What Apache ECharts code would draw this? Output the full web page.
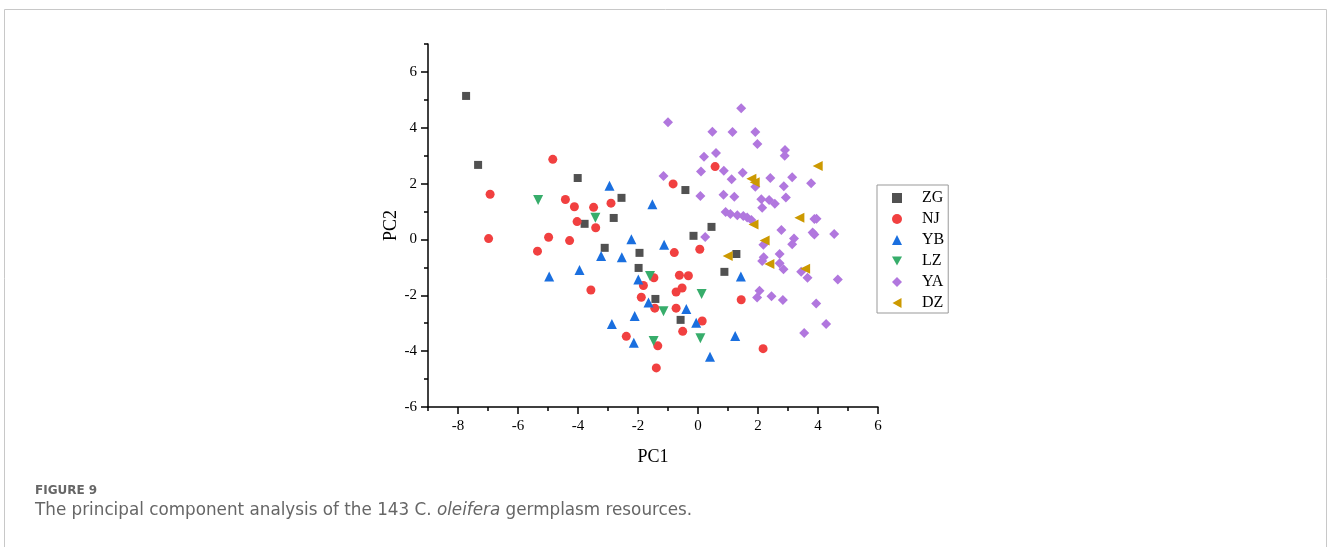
<!DOCTYPE html>
<html>
<head>
<meta charset="utf-8">
<script src="https://cdn.jsdelivr.net/npm/echarts@6/dist/echarts.min.js"></script>
<style>
  html, body { margin: 0; padding: 0; background: #fff; }
  #chart { width: 1328px; height: 547px; }
</style>
</head>
<body>
<div id="chart"></div>
<script>
// PCA scores, [PC1, PC2]
const zg = [
  [-7.73, 5.14], [-7.33, 2.67], [-4.01, 2.20], [-3.78, 0.56], [-2.55, 1.49], [-2.81, 0.77],
  [-3.11, -0.30], [-1.95, -0.48], [-1.98, -1.02], [-1.42, -2.13], [-0.58, -2.88], [-0.42, 1.77],
  [-0.15, 0.13], [0.45, 0.45], [1.28, -0.52], [0.88, -1.16]
]
const nj = [
  [-4.84, 2.87], [-6.93, 1.62], [-4.42, 1.43], [-4.12, 1.17], [-3.48, 1.15], [-2.90, 1.30],
  [-4.03, 0.64], [-3.41, 0.42], [-6.98, 0.03], [-4.98, 0.08], [-4.28, -0.04], [-5.35, -0.42],
  [-3.57, -1.81], [-1.47, -1.37], [-1.82, -1.65], [-1.89, -2.07], [-1.44, -2.46], [-2.39, -3.47],
  [-1.34, -3.81], [-1.39, -4.60], [0.57, 2.61], [-0.83, 1.99], [-0.79, -0.47], [0.06, -0.35],
  [-0.62, -1.28], [-0.32, -1.30], [-0.73, -1.88], [-0.53, -1.74], [-0.73, -2.46], [0.14, -2.92],
  [-0.51, -3.29], [1.44, -2.16], [2.17, -3.91]
]
const yb = [
  [-2.95, 1.92], [-1.52, 1.26], [-2.22, 0.01], [-3.23, -0.59], [-2.54, -0.64], [-4.96, -1.33],
  [-3.95, -1.09], [-1.99, -1.43], [-1.65, -2.26], [-2.11, -2.74], [-2.87, -3.03], [-2.14, -3.70],
  [-1.13, -0.19], [-0.39, -2.49], [-0.06, -2.98], [1.43, -1.33], [1.24, -3.46], [0.40, -4.20]
]
const lz = [
  [-5.33, 1.41], [-3.42, 0.78], [-1.60, -1.31], [0.12, -1.95], [-1.15, -2.57], [-1.48, -3.64],
  [0.08, -3.54]
]
const ya = [
  [1.44, 4.70], [-1.00, 4.20], [0.48, 3.86], [1.15, 3.85], [1.91, 3.85], [1.98, 3.42],
  [2.90, 3.20], [2.89, 3.00], [0.20, 2.96], [0.60, 3.10], [0.10, 2.43], [-1.15, 2.27],
  [0.86, 2.46], [1.12, 2.16], [1.49, 2.39], [1.91, 1.89], [2.41, 2.20], [3.14, 2.23],
  [2.86, 1.91], [3.77, 2.01], [0.08, 1.56], [0.85, 1.60], [1.21, 1.53], [2.11, 1.44],
  [2.37, 1.41], [2.56, 1.28], [2.93, 1.50], [2.14, 1.14], [0.92, 0.98], [1.08, 0.91],
  [1.31, 0.87], [1.51, 0.84], [1.64, 0.79], [1.78, 0.70], [3.88, 0.73], [3.95, 0.74],
  [2.78, 0.34], [3.82, 0.25], [3.88, 0.18], [4.54, 0.20], [3.20, 0.03], [3.14, -0.17],
  [0.24, 0.09], [2.18, -0.19], [2.19, -0.64], [2.14, -0.77], [2.72, -0.52], [2.72, -0.85],
  [2.85, -1.07], [3.44, -1.16], [3.65, -1.37], [4.66, -1.43], [2.05, -1.84], [1.97, -2.08],
  [2.45, -2.03], [2.83, -2.17], [3.94, -2.29], [4.27, -3.03], [3.54, -3.35]
]
const dz = [
  [3.99, 2.63], [1.78, 2.17], [1.89, 2.05], [3.38, 0.78], [1.85, 0.54], [2.22, -0.04],
  [0.99, -0.59], [2.38, -0.88], [3.57, -1.05]
]

const groups = ['ZG', 'NJ', 'YB', 'LZ', 'YA', 'DZ']
const groupData = [zg, nj, yb, lz, ya, dz]
const colors = ['#515151', '#F14040', '#1A6FDF', '#37AD6B', '#B177DE', '#CC9900']
const symbols = ['rect', 'circle', 'triangle', 'triangle', 'diamond', 'triangle']
const rotates = [0, 0, 0, 180, 0, 90]
const sizes = [8, 9, 10, 10, 10, 10]
// legend icons (legend does not pick up symbolRotate)
const legendIcons = ['rect', 'circle', 'triangle', 'path://M0,0 L10,0 L5,9 Z', 'diamond', 'path://M9,0 L9,10 L0,5 Z']

const xMajor = [-8, -6, -4, -2, 0, 2, 4, 6]
const yMajor = [-6, -4, -2, 0, 2, 4, 6]

const serif = '"Liberation Serif", "Times New Roman", serif'
const chart = echarts.init(document.getElementById('chart'))

const baseAxis = (min, max) => ({
  type: 'value',
  min: min,
  max: max,
  interval: 1,
  splitLine: { show: false },
  axisLine: { show: true, onZero: false, lineStyle: { color: '#000', width: 1.5 } },
  axisTick: { show: true, length: 4, lineStyle: { color: '#000', width: 1.5 } },
  axisLabel: {
    color: '#000',
    fontFamily: serif,
    fontSize: 15,
    formatter: v => (v % 2 === 0 ? String(v) : '')
  }
})

// second axis only draws the longer major ticks
const majorTicks = (min, max, values, position) => ({
  type: 'value',
  min: min,
  max: max,
  position: position,
  splitLine: { show: false },
  axisLine: { show: false, onZero: false },
  axisLabel: { show: false },
  axisTick: { show: true, length: 7, customValues: values, lineStyle: { color: '#000', width: 1.5 } }
})

const xMain = baseAxis(-9, 6)
xMain.position = 'bottom'
xMain.name = 'PC1'
xMain.nameLocation = 'middle'
xMain.nameGap = 41
xMain.nameTextStyle = { color: '#000', fontFamily: serif, fontSize: 18 }
xMain.axisLabel.margin = 12

const yMain = baseAxis(-6, 7)
yMain.position = 'left'
yMain.name = 'PC2'
yMain.nameLocation = 'middle'
yMain.nameGap = 23
yMain.nameTextStyle = { color: '#000', fontFamily: serif, fontSize: 18 }
yMain.axisLabel.margin = 11

const option = {
  animation: false,
  backgroundColor: '#fff',
  grid: { left: 428, top: 44, width: 450, height: 363 },
  xAxis: [xMain, majorTicks(-9, 6, xMajor, 'bottom')],
  yAxis: [yMain, majorTicks(-6, 7, yMajor, 'left')],
  legend: {
    orient: 'vertical',
    left: 877,
    top: 185,
    padding: [5, 4, 2, 15],
    itemWidth: 10,
    itemHeight: 10,
    itemGap: 5,
    borderColor: '#999',
    borderWidth: 1,
    textStyle: { color: '#000', fontFamily: serif, fontSize: 16, lineHeight: 16, padding: [0, 0, 0, 15] },
    data: groups.map((g, i) => ({ name: g, icon: legendIcons[i] }))
  },
  graphic: [
    {
      type: 'rect',
      shape: { x: 4.5, y: 9.5, width: 1322, height: 600 },
      style: { fill: 'none', stroke: '#c8c8c8', lineWidth: 1 },
      silent: true
    },
    {
      type: 'text',
      left: 35,
      top: 485,
      style: { text: 'FIGURE 9', fill: '#666', font: 'bold 12px "DejaVu Sans", sans-serif' }
    },
    {
      type: 'text',
      left: 35,
      top: 502,
      style: {
        text: '{n|The principal component analysis of the 143 C. }{i|oleifera}{n| germplasm resources.}',
        rich: {
          n: { fill: '#666', fontFamily: '"DejaVu Sans", sans-serif', fontSize: 16.8 },
          i: { fill: '#666', fontFamily: '"DejaVu Sans", sans-serif', fontSize: 16.8, fontStyle: 'italic' }
        }
      }
    }
  ],
  series: groups.map((g, i) => ({
    name: g,
    type: 'scatter',
    xAxisIndex: 0,
    yAxisIndex: 0,
    data: groupData[i],
    symbol: symbols[i],
    symbolSize: sizes[i],
    symbolRotate: rotates[i],
    itemStyle: { color: colors[i], opacity: 1 }
  }))
}

chart.setOption(option)
window.addEventListener('resize', () => chart.resize())
</script>
</body>
</html>
